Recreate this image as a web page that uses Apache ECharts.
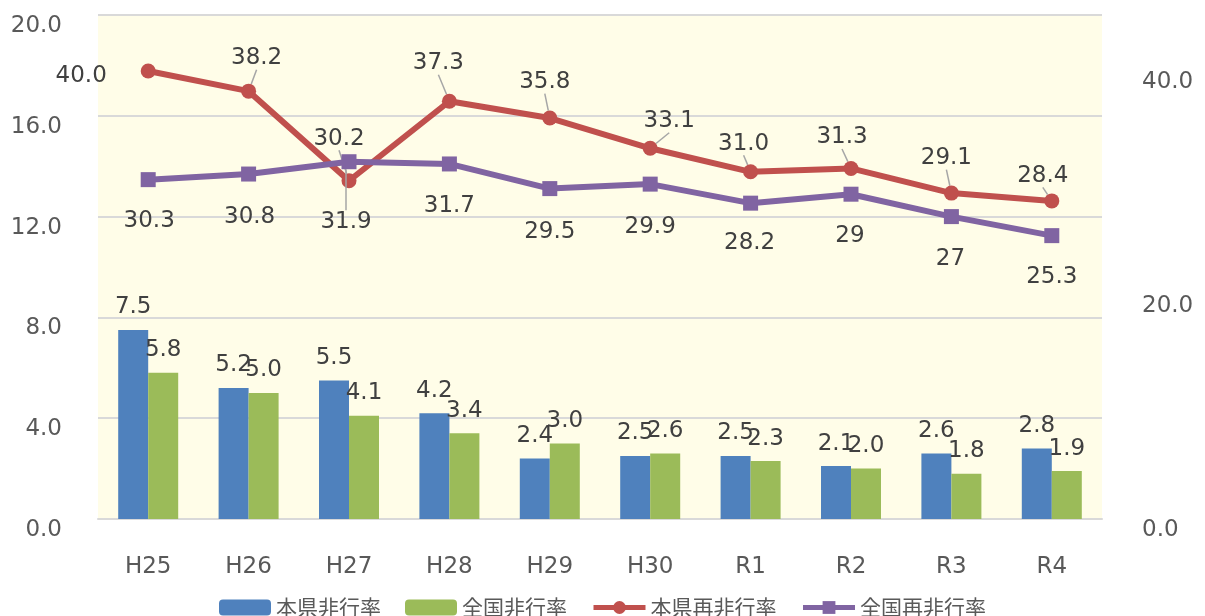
<!DOCTYPE html>
<html>
<head>
<meta charset="utf-8">
<script src="https://cdn.jsdelivr.net/npm/echarts@6/dist/echarts.min.js"></script>
<style>
  html, body { margin: 0; padding: 0; background: #fff; }
  #main { width: 1205px; height: 616px; }
</style>
</head>
<body>
<div id="main"></div>
<script>
// 年度
const categories = ['H25', 'H26', 'H27', 'H28', 'H29', 'H30', 'R1', 'R2', 'R3', 'R4'];

// 非行率（左軸）
const kenRate = [7.5, 5.2, 5.5, 4.2, 2.4, 2.5, 2.5, 2.1, 2.6, 2.8];
const zenkokuRate = [5.8, 5.0, 4.1, 3.4, 3.0, 2.6, 2.3, 2.0, 1.8, 1.9];

// 再非行率（右軸）
const kenSaiRate = [40.0, 38.2, 30.2, 37.3, 35.8, 33.1, 31.0, 31.3, 29.1, 28.4];
const zenkokuSaiRate = [30.3, 30.8, 31.9, 31.7, 29.5, 29.9, 28.2, 29, 27, 25.3];

// ラベルの位置ずらし（点の中心からのpx）
const redLabelShift = [[-67, 5], [8, -33], [-10, -42], [-11, -38], [-5, -36], [19, -27], [-7, -28], [-9, -31], [-5, -35], [-9, -25]];
const purpleLabelShift = [[1, 41], [1, 43], [-3, 60], [0, 42], [0, 43], [0, 43], [-1, 40], [-1, 42], [-1, 42], [0, 41]];

const FONT = 'DejaVu Sans';
const TICK_COLOR = '#595959';
const LABEL_COLOR = '#404040';

const chart = echarts.init(document.getElementById('main'));

const barLabel = {
    show: true,
    position: 'top',
    distance: 11,
    fontFamily: FONT,
    fontSize: 23,
    color: LABEL_COLOR,
    formatter: p => p.value.toFixed(1)
};

// 軸ラベルを少し下げる
const tickRich = { t: { fontFamily: FONT, fontSize: 23, color: TICK_COLOR, padding: [22, 0, 0, 0] } };

chart.setOption({
    animation: false,
    grid: {
        left: 98, right: 103, top: 15, bottom: 97,
        show: true,
        backgroundColor: '#FFFDE8',
        borderWidth: 0
    },
    legend: {
        bottom: -7,
        left: 'center',
        itemWidth: 52,
        itemHeight: 16,
        itemGap: 24,
        textStyle: { fontFamily: 'Noto Sans CJK JP', fontSize: 21, color: TICK_COLOR },
        lineStyle: { width: 5 },
        data: ['本県非行率', '全国非行率', '本県再非行率', '全国再非行率']
    },
    xAxis: {
        type: 'category',
        data: categories,
        axisLine: { show: true, lineStyle: { color: '#D9D9D9', width: 2 } },
        axisTick: { show: false },
        axisLabel: { margin: 37, fontFamily: FONT, fontSize: 23, color: TICK_COLOR }
    },
    yAxis: [
        {
            type: 'value',
            min: 0, max: 20, interval: 4,
            axisLine: { show: false },
            axisTick: { show: false },
            splitLine: { lineStyle: { color: '#D9D9D9', width: 2 } },
            axisLabel: {
                margin: 36,
                rich: tickRich,
                formatter: v => '{t|' + v.toFixed(1) + '}'
            }
        },
        {
            type: 'value',
            min: 0, max: 45, interval: 20,
            axisLine: { show: false },
            axisTick: { show: false },
            splitLine: { show: false },
            axisLabel: {
                margin: 40,
                rich: tickRich,
                formatter: v => (v % 20 === 0 ? '{t|' + v.toFixed(1) + '}' : '')
            }
        }
    ],
    series: [
        {
            name: '本県非行率',
            type: 'bar',
            data: kenRate,
            barWidth: 30,
            barGap: '0%',
            itemStyle: { color: '#4F81BD' },
            label: barLabel
        },
        {
            name: '全国非行率',
            type: 'bar',
            data: zenkokuRate,
            barWidth: 30,
            barGap: '0%',
            itemStyle: { color: '#9BBB59' },
            label: barLabel
        },
        {
            name: '本県再非行率',
            type: 'line',
            yAxisIndex: 1,
            data: kenSaiRate.map((v, i) => ({ value: v, labelLine: { show: i > 0 } })),
            symbol: 'circle',
            symbolSize: 15,
            lineStyle: { color: '#C0504D', width: 6 },
            itemStyle: { color: '#C0504D' },
            z: 3,
            label: {
                show: true,
                position: 'inside',
                fontFamily: FONT,
                fontSize: 23,
                color: LABEL_COLOR,
                formatter: p => p.value.toFixed(1)
            },
            labelLine: { show: true, lineStyle: { color: '#A6A6A6', width: 1.5 } },
            labelLayout: p => ({ dx: redLabelShift[p.dataIndex][0], dy: redLabelShift[p.dataIndex][1] })
        },
        {
            name: '全国再非行率',
            type: 'line',
            yAxisIndex: 1,
            data: zenkokuSaiRate.map((v, i) => ({ value: v, labelLine: { show: i === 2 } })),
            symbol: 'rect',
            symbolSize: 15,
            lineStyle: { color: '#8064A2', width: 6 },
            itemStyle: { color: '#8064A2' },
            z: 4,
            label: {
                show: true,
                position: 'inside',
                fontFamily: FONT,
                fontSize: 23,
                color: LABEL_COLOR,
                formatter: p => String(p.value)
            },
            labelLine: { show: false, lineStyle: { color: '#A6A6A6', width: 1.5 } },
            labelLayout: p => ({ dx: purpleLabelShift[p.dataIndex][0], dy: purpleLabelShift[p.dataIndex][1] })
        }
    ]
});
</script>
</body>
</html>
